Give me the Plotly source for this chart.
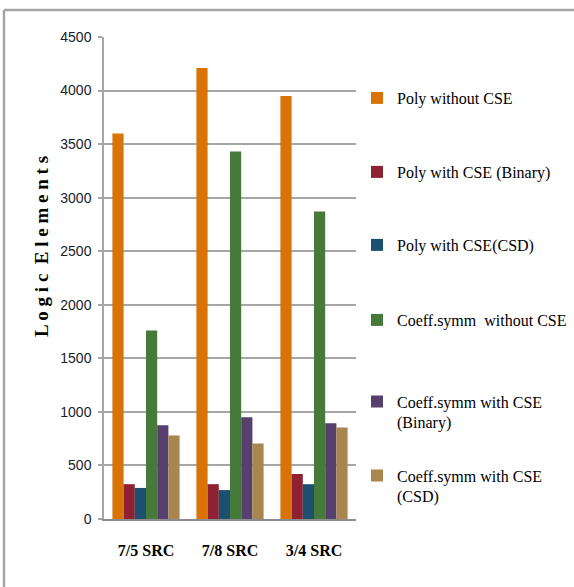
import plotly.graph_objects as go

categories = ["7/5 SRC", "7/8 SRC", "3/4 SRC"]
series_names = [
    "Poly without CSE",
    "Poly with CSE (Binary)",
    "Poly with CSE(CSD)",
    "Coeff.symm  without CSE",
    "Coeff.symm with CSE<br>(Binary)",
    "Coeff.symm with CSE<br>(CSD)",
]
poly_without_cse = [3600, 4210, 3950]
poly_with_cse_binary = [325, 325, 420]
poly_with_cse_csd = [290, 270, 325]
coeff_without_cse = [1760, 3430, 2870]
coeff_with_cse_binary = [875, 950, 895]
coeff_with_cse_csd = [780, 705, 855]
series_values = [
    poly_without_cse,
    poly_with_cse_binary,
    poly_with_cse_csd,
    coeff_without_cse,
    coeff_with_cse_binary,
    coeff_with_cse_csd,
]
colors = ["#D97306", "#8E2232", "#1D4F6E", "#467A3B", "#573F6E", "#A98550"]
y_ticks = [0, 500, 1000, 1500, 2000, 2500, 3000, 3500, 4000, 4500]

W, H = 574, 587
L, R, T, B = 104, 218, 37, 68
pw = W - L - R
ph = H - T - B


def px_x(x):
    return (x - L) / pw


def px_y(y):
    return (H - B - y) / ph


# legend item vertical centres (pixels)
legend_centres = [98, 172, 245, 320, 412, 486]

fig = go.Figure()
legend_ids = ["legend", "legend2", "legend3", "legend4", "legend5", "legend6"]
for i, (name, vals, col) in enumerate(zip(series_names, series_values, colors)):
    fig.add_trace(go.Bar(
        x=categories, y=vals, name=name,
        marker=dict(color=col, line=dict(width=0)),
        legend=legend_ids[i],
    ))

legend_font = dict(family="Liberation Serif, Times New Roman, serif", size=16, color="#000000")
layout_legends = {}
for i, lid in enumerate(legend_ids):
    layout_legends[lid] = dict(
        x=px_x(357), xanchor="left",
        y=px_y(legend_centres[i]), yanchor="middle",
        font=legend_font, bgcolor="rgba(0,0,0,0)", borderwidth=0,
        valign="top", itemclick=False, itemdoubleclick=False,
    )

fig.update_layout(
    width=W, height=H,
    margin=dict(l=L, r=R, t=T, b=B, pad=0, autoexpand=False),
    paper_bgcolor="white", plot_bgcolor="white",
    barmode="group", bargap=0.2, bargroupgap=0,
    showlegend=True,
    **layout_legends,
)

fig.update_xaxes(
    showgrid=False, showline=True, linecolor="#8c8c8c", linewidth=2,
    ticks="", tickfont=dict(family="Liberation Serif, Times New Roman, serif", size=16, color="#000000"),
    ticklabelstandoff=16,
    tickvals=categories, ticktext=["<b>%s</b>" % c for c in categories],
)
fig.update_yaxes(
    range=[0, 4500], tickvals=y_ticks, ticktext=[str(v) for v in y_ticks],
    showgrid=True, gridcolor="#a6a6a6", gridwidth=1.5,
    zeroline=False, showline=True, linecolor="#a6a6a6", linewidth=1.5,
    ticks="outside", ticklen=4, tickcolor="#a6a6a6", tickwidth=1.5,
    tickfont=dict(family="Liberation Sans, Arial, sans-serif", size=14, color="#1a1a2a"),
    ticklabelstandoff=4,
)

# y-axis title, placed where the original shows it
fig.add_annotation(
    text="<b>L o g i c  E l e m e n t s</b>",
    textangle=-90, xref="paper", yref="paper",
    x=px_x(41), y=px_y(247), xanchor="center", yanchor="middle",
    showarrow=False,
    font=dict(family="Liberation Serif, Times New Roman, serif", size=19, color="#000000"),
)

# outer frame (cropped figure border)
frame = dict(color="#a6a6a6", width=2.5)
fig.add_shape(type="line", xref="paper", yref="paper",
              x0=px_x(4), x1=px_x(580), y0=px_y(10), y1=px_y(10), line=frame)
fig.add_shape(type="line", xref="paper", yref="paper",
              x0=px_x(4), x1=px_x(4), y0=px_y(10), y1=px_y(600), line=frame)

fig.write_html("out.html", config={"displayModeBar": False},
               post_script="document.body.style.margin='0';")
